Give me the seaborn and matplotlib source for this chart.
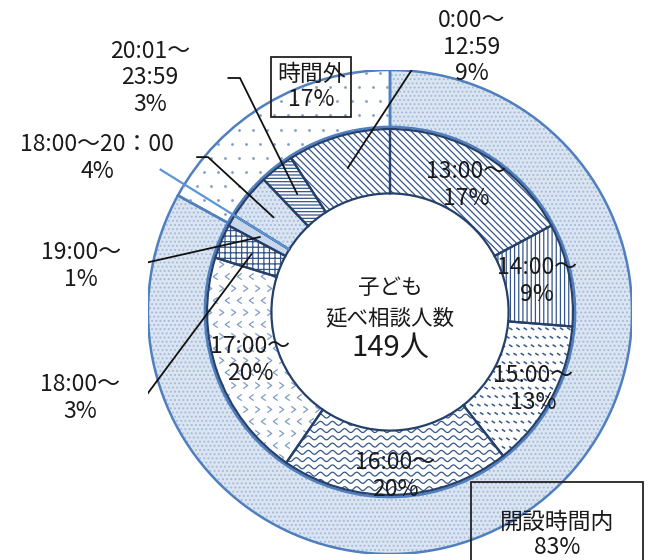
import numpy as np
import matplotlib
matplotlib.use("Agg")
import matplotlib.pyplot as plt
import seaborn as sns
from matplotlib.patches import Wedge
from matplotlib.path import Path
from matplotlib.collections import LineCollection

# ---- data -------------------------------------------------------------
outer_names = ["開設時間内", "時間外"]
outer_pct = [83, 17]

inner_names = ["13:00～", "14:00～", "15:00～", "16:00～", "17:00～",
               "18:00～", "19:00～", "18:00～20：00", "20:01～\n23:59",
               "0:00～\n12:59"]
inner_pct = [17, 9, 13, 20, 20, 3, 1, 4, 3, 9]

center_lines = ["子ども", "延べ相談人数", "149人"]

# ---- style ------------------------------------------------------------
sns.set_theme(style="white")
plt.rcParams["font.family"] = ["Noto Sans CJK JP", "DejaVu Sans"]
plt.rcParams["hatch.linewidth"] = 0.9

NAVY = "#25406b"
HATCH = "#35568a"
RING = "#4f7fbf"
LIGHT = "#dbe5f2"
DOTS = "#a6bbdb"
PALE = "#7f9cc8"
INK = "#1a1a1a"

R_OUT, R_MID_OUT, R_MID_IN, R_HOLE = 1.0, 0.765, 0.756, 0.49

fig = plt.figure(figsize=(6.53, 5.6), dpi=100)
ax = fig.add_axes([148 / 653, 6 / 560, 484 / 653, 484 / 560])


def texture(wedge, kind):
    """Draw a procedural fill texture clipped to a wedge."""
    if kind == "wave":
        xs = np.linspace(-1, 1, 900)
        segs = [np.column_stack([xs, y0 + 0.008 * np.sin(2 * np.pi * xs / 0.05)])
                for y0 in np.arange(-1.0, 0.2, 0.03)]
        lc = LineCollection(segs, colors=HATCH, linewidths=0.9)
        ax.add_collection(lc)
        lc.set_clip_path(wedge)
    elif kind == "dash":
        segs = []
        for j, y0 in enumerate(np.arange(-0.8, 0.4, 0.035)):
            off = 0.012 * (j % 2)
            for x0 in np.arange(0.0, 1.0, 0.03):
                segs.append([(x0 + off, y0), (x0 + off + 0.014, y0 - 0.009)])
        lc = LineCollection(segs, colors=HATCH, linewidths=1.1)
        ax.add_collection(lc)
        lc.set_clip_path(wedge)
    elif kind == "chevron":
        left = Path([(0.5, 0.7), (-0.5, 0.0), (0.5, -0.7)],
                    [Path.MOVETO, Path.LINETO, Path.LINETO])
        right = Path([(-0.5, 0.7), (0.5, 0.0), (-0.5, -0.7)],
                     [Path.MOVETO, Path.LINETO, Path.LINETO])
        for j, y0 in enumerate(np.arange(-0.8, 0.3, 0.05)):
            xs = np.arange(-0.8, 0.0, 0.05) + 0.025 * (j % 2)
            ln, = ax.plot(xs, np.full_like(xs, y0), ls="none",
                          marker=left if j % 2 else right, ms=4.5,
                          mec=PALE, mfc="none", mew=0.9)
            ln.set_clip_path(wedge)
    elif kind == "dots":
        for j, y0 in enumerate(np.arange(0.0, 1.05, 0.058)):
            xs = np.arange(-1.0, 0.1, 0.058) + 0.029 * (j % 2)
            ln, = ax.plot(xs, np.full_like(xs, y0), ls="none", marker="o",
                          ms=2.0, mec="none", mfc=PALE)
            ln.set_clip_path(wedge)


# ---- outer ring --------------------------------------------------------
outer_wedges, _ = ax.pie(outer_pct, radius=R_OUT, startangle=90, counterclock=False,
                         wedgeprops=dict(width=R_OUT - R_MID_OUT, linewidth=0))
outer_style = [dict(fc=LIGHT, hatch="....", hc=DOTS),
               dict(fc="white", tex="dots")]
for w, st in zip(outer_wedges, outer_style):
    w.set_facecolor(st["fc"])
    if st.get("hatch"):
        w.set_edgecolor(st["hc"])
        w.set_hatch(st["hatch"])
    w.set_linewidth(0)
    if st.get("tex"):
        texture(w, st["tex"])
    ax.add_patch(Wedge(w.center, w.r, w.theta1, w.theta2, width=w.width,
                       fc="none", ec=RING, lw=1.8))

# ---- inner ring --------------------------------------------------------
inner_wedges, _ = ax.pie(inner_pct, radius=R_MID_IN, startangle=90, counterclock=False,
                         wedgeprops=dict(width=R_MID_IN - R_HOLE, linewidth=0))

inner_style = [
    dict(fc="white", hatch="\\\\\\\\\\", hc=HATCH),  # 13:00
    dict(fc="white", hatch="||||", hc=HATCH),         # 14:00
    dict(fc="white", tex="dash"),                     # 15:00
    dict(fc="white", tex="wave"),                     # 16:00
    dict(fc="white", tex="chevron"),                  # 17:00
    dict(fc="white", hatch="+++", hc=HATCH),          # 18:00
    dict(fc="#c9d7ec"),                               # 19:00
    dict(fc=LIGHT, hatch="....", hc=DOTS),            # 18:00-20:00
    dict(fc="white", hatch="-----", hc=HATCH),        # 20:01-23:59
    dict(fc="white", hatch="\\\\\\\\\\", hc=HATCH),  # 0:00-12:59
]

for w, st in zip(inner_wedges, inner_style):
    w.set_facecolor(st["fc"])
    if st.get("hatch"):
        w.set_edgecolor(st["hc"])
        w.set_hatch(st["hatch"])
    w.set_linewidth(0)
    if st.get("tex"):
        texture(w, st["tex"])
    ax.add_patch(Wedge(w.center, w.r, w.theta1, w.theta2, width=w.width,
                       fc="none", ec=NAVY, lw=1.6, zorder=3))

# boundary between in-hours and after-hours slices, carried past the rings
ang = np.deg2rad(inner_wedges[6].theta1)
ax.plot([R_HOLE * np.cos(ang), 1.12 * np.cos(ang)],
        [R_HOLE * np.sin(ang), 1.12 * np.sin(ang)],
        color="#5b95d6", lw=1.6, zorder=4, solid_capstyle="butt")

FS = 16.5
LS = 1.22


def mid_point(w, r):
    a = np.deg2rad((w.theta1 + w.theta2) / 2)
    return r * np.cos(a), r * np.sin(a)


# labels inside the inner ring (radial distance of each label)
label_r = [0.61, 0.62, 0.67, 0.68, 0.61]
for i, r in enumerate(label_r):
    x, y = mid_point(inner_wedges[i], r)
    ax.text(x, y, f"{inner_names[i]}\n{inner_pct[i]}%", ha="center", va="center",
            fontsize=FS, color=INK, linespacing=LS, zorder=6)

# labels outside with leader lines: text centre, elbow start, elbow end
outside = {
    9: ((0.339, 1.095), (0.194, 1.091), (0.149, 1.091)),
    8: ((-0.992, 0.967), (-0.669, 0.967), (-0.620, 0.967)),
    7: ((-1.211, 0.636), (-0.798, 0.640), (-0.752, 0.640)),
    6: ((-1.277, 0.190), (-1.050, 0.194), (-1.050, 0.194)),
    5: ((-1.280, -0.355), (-1.062, -0.351), (-1.012, -0.351)),
}
for i, (txy, e0, e1) in outside.items():
    ax.text(*txy, f"{inner_names[i]}\n{inner_pct[i]}%", ha="center", va="center",
            fontsize=FS, color=INK, linespacing=LS, zorder=6)
    end = mid_point(inner_wedges[i], 0.62)
    ax.plot([e0[0], e1[0], end[0]], [e0[1], e1[1], end[1]],
            color="#111111", lw=1.3, zorder=5, solid_joinstyle="miter")

# outer ring labels in boxes
ax.text(-0.326, 0.930, f"{outer_names[1]}\n{outer_pct[1]}%", ha="center", va="center",
        fontsize=FS, color=INK, linespacing=1.1, zorder=6,
        bbox=dict(boxstyle="square,pad=0.25", fc="none", ec="#222222", lw=1.3))
ax.text(0.69, -0.921, f"{outer_names[0]}\n{outer_pct[0]}%", ha="center", va="center",
        fontsize=FS, color=INK, linespacing=1.1, zorder=6,
        bbox=dict(boxstyle="square,pad=1.25", fc="none", ec="#222222", lw=1.3))

# centre caption
ax.text(0, 0.099, center_lines[0], ha="center", va="center", fontsize=15.5, color=INK)
ax.text(0, -0.025, center_lines[1], ha="center", va="center", fontsize=15.5, color=INK)
ax.text(0, -0.149, center_lines[2], ha="center", va="center", fontsize=21, color=INK)

ax.set_xlim(-1, 1)
ax.set_ylim(-1, 1)
ax.set_aspect("auto")
ax.axis("off")

fig.savefig("out.png", dpi=100)
